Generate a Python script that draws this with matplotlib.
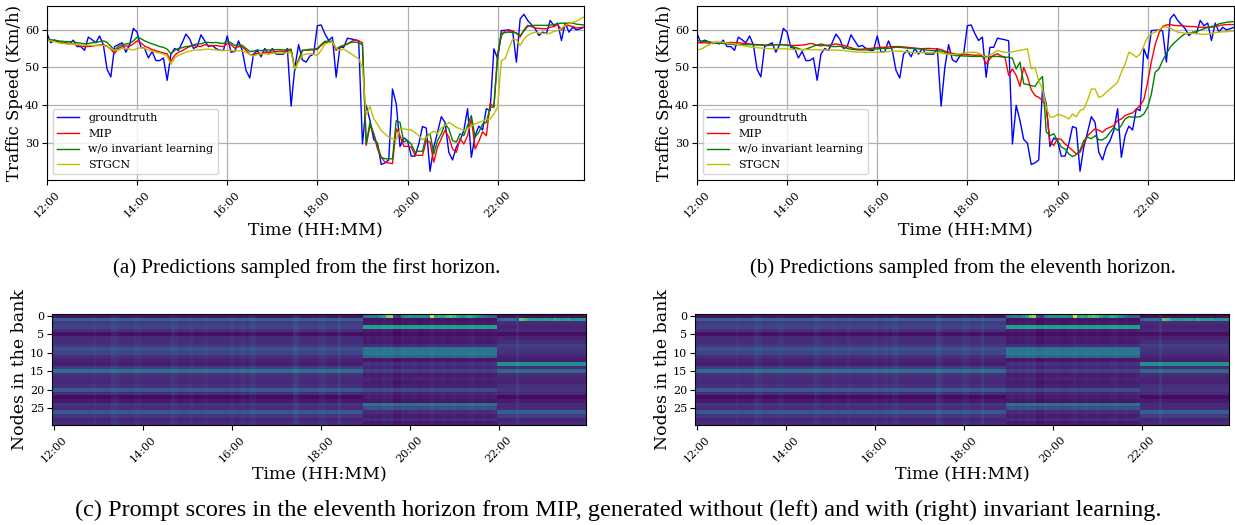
import numpy as np
import matplotlib
matplotlib.use("Agg")
import matplotlib.pyplot as plt

# ------------------------------------------------------------------
#  data (5-min steps, 12:00 -> 23:55)
# ------------------------------------------------------------------

tick_pos    = [0, 24, 48, 72, 96, 120]
tick_labels = ["12:00", "14:00", "16:00", "18:00", "20:00", "22:00"]

groundtruth = [
    59.0, 56.5, 57.2, 56.8, 56.3, 56.5, 56.2, 57.2, 55.5, 55.5, 54.5, 58.0,
    57.3, 56.5, 58.3, 56.0, 49.5, 47.5, 55.5, 56.0, 56.5, 54.0, 56.0, 60.3,
    59.3, 55.3, 55.0, 52.5, 54.2, 51.8, 51.8, 52.5, 46.6, 53.5, 55.0, 54.5,
    56.5, 58.8, 57.5, 55.0, 55.5, 58.6, 57.0, 55.5, 55.8, 55.0, 54.5, 54.5,
    58.3, 54.0, 54.2, 57.0, 54.5, 49.2, 47.2, 53.5, 54.5, 52.8, 55.0, 53.5,
    55.0, 53.5, 53.5, 53.5, 55.0, 39.8, 50.0, 56.0, 52.0, 51.4, 53.0, 53.5,
    61.0, 61.2, 58.9, 57.1, 58.0, 47.4, 55.3, 55.3, 57.7, 57.5, 57.3, 57.0,
    29.8, 40.0, 36.0, 31.0, 30.0, 24.4, 24.8, 25.6, 44.3, 40.4, 29.1, 31.4,
    30.7, 26.6, 26.6, 29.8, 34.4, 34.0, 22.6, 29.0, 32.9, 37.0, 35.5, 27.6,
    25.6, 29.0, 30.7, 33.4, 39.1, 26.3, 32.0, 34.5, 33.5, 39.1, 38.6, 54.9,
    52.3, 59.7, 59.8, 59.9, 59.6, 51.4, 62.8, 64.0, 62.4, 61.3, 60.2, 58.4,
    59.3, 58.9, 62.4, 61.0, 61.7, 57.1, 61.7, 59.3, 60.6, 59.9, 60.2, 60.6,
]

# (a) first horizon
mip_h1 = [
    57.2, 57.0, 56.9, 56.7, 56.5, 56.4, 56.3, 56.2, 55.9, 55.7, 55.5, 55.5,
    55.6, 55.8, 55.9, 56.0, 55.6, 54.8, 53.7, 55.0, 55.5, 55.7, 55.6, 56.2,
    57.0, 56.5, 55.6, 55.2, 54.7, 54.4, 54.1, 53.8, 53.6, 51.6, 53.2, 54.0,
    54.4, 55.0, 55.5, 55.8, 55.6, 55.5, 56.0, 55.8, 55.7, 55.8, 55.6, 55.5,
    56.3, 56.0, 55.1, 55.5, 55.4, 54.5, 53.4, 53.3, 53.8, 53.6, 54.0, 54.0,
    54.0, 54.2, 54.3, 54.2, 54.3, 54.5, 49.8, 51.8, 54.5, 54.5, 54.6, 54.6,
    54.8, 55.8, 56.6, 56.6, 56.7, 54.5, 55.3, 55.8, 56.2, 56.8, 57.3, 57.0,
    56.5, 29.4, 34.7, 32.5, 28.5, 26.3, 25.0, 24.8, 24.6, 33.8, 32.0, 29.2,
    29.2, 29.0, 26.8, 26.8, 26.8, 30.7, 30.3, 25.0, 29.0, 31.2, 33.4, 31.6,
    28.5, 27.6, 31.2, 29.8, 32.0, 36.5, 28.5, 30.5, 33.0, 32.0, 40.4, 39.7,
    53.6, 58.4, 59.7, 59.6, 59.6, 59.0, 58.0, 59.9, 61.1, 60.8, 60.4, 60.3,
    60.2, 60.2, 60.6, 60.8, 61.3, 59.9, 61.2, 61.0, 60.8, 60.4, 60.5, 60.6,
]
woinv_h1 = [
    57.5, 57.3, 57.2, 57.0, 56.9, 56.8, 56.8, 56.8, 56.5, 56.4, 56.2, 56.3,
    56.5, 56.6, 56.8, 57.0, 56.6, 55.6, 54.5, 55.5, 56.0, 56.2, 56.3, 57.0,
    58.0, 57.6, 57.0, 56.6, 56.2, 55.9, 55.5, 55.3, 54.8, 53.6, 54.5, 55.0,
    55.2, 55.5, 55.6, 56.0, 56.2, 56.2, 56.6, 56.6, 56.5, 56.6, 56.4, 56.3,
    57.0, 56.5, 55.8, 56.0, 55.8, 55.0, 54.2, 54.3, 54.6, 54.4, 54.6, 54.6,
    54.6, 54.7, 54.7, 54.6, 54.7, 54.8, 49.2, 52.0, 54.5, 54.6, 54.8, 54.8,
    55.0, 56.0, 56.9, 56.9, 56.9, 54.8, 55.5, 55.8, 56.2, 56.6, 56.7, 56.5,
    56.0, 29.8, 35.5, 32.5, 29.4, 26.3, 25.9, 25.9, 25.9, 36.0, 35.5, 30.3,
    30.7, 29.8, 27.6, 27.9, 27.9, 32.0, 32.5, 27.2, 30.7, 32.5, 35.1, 33.8,
    30.7, 30.3, 32.5, 32.0, 34.7, 37.3, 31.6, 32.9, 35.1, 35.5, 39.5, 39.5,
    52.7, 58.9, 59.2, 59.3, 59.2, 59.1, 58.4, 59.6, 60.8, 61.0, 61.1, 61.1,
    61.1, 61.1, 61.2, 61.3, 61.5, 61.7, 61.6, 61.7, 61.7, 61.4, 61.3, 61.2,
]
stgcn_h1 = [
    57.3, 57.0, 56.8, 56.5, 56.4, 56.2, 56.2, 56.2, 56.0, 55.9, 55.8, 55.8,
    55.8, 55.7, 55.8, 55.8, 55.5, 55.0, 54.5, 54.6, 55.0, 55.0, 54.8, 54.6,
    55.0, 55.2, 55.0, 54.6, 54.3, 54.0, 53.8, 53.5, 53.0, 50.8, 52.5, 53.2,
    53.6, 54.0, 54.3, 54.5, 54.6, 54.6, 54.8, 54.8, 54.7, 54.6, 54.5, 54.4,
    54.5, 54.5, 54.3, 54.4, 54.3, 54.0, 53.4, 53.0, 53.4, 53.5, 53.6, 53.6,
    53.7, 53.8, 53.8, 53.8, 53.8, 53.9, 49.6, 51.5, 53.3, 53.5, 53.6, 53.5,
    53.1, 54.5, 56.2, 56.5, 56.7, 55.0, 54.5, 54.9, 54.2, 53.6, 52.9, 52.3,
    50.0, 37.5, 39.7, 36.5, 35.0, 33.4, 32.4, 31.6, 31.2, 30.9, 33.8, 33.8,
    33.6, 33.5, 32.8, 32.0, 30.9, 31.5, 32.5, 33.2, 32.6, 34.0, 34.7, 35.5,
    34.9, 34.2, 33.8, 33.4, 33.8, 34.5, 35.1, 35.5, 35.8, 36.4, 36.4, 37.7,
    39.5, 51.8, 52.3, 55.0, 57.5, 57.3, 55.8, 57.5, 58.4, 59.0, 59.3, 59.1,
    59.0, 58.9, 59.0, 59.5, 59.7, 60.3, 61.1, 61.5, 61.9, 62.2, 62.8, 63.3,
]

# (b) eleventh horizon
mip_h11 = [
    56.5, 56.5, 56.5, 56.4, 56.5, 56.6, 56.5, 56.4, 56.5, 56.6, 56.5, 56.5,
    56.4, 56.3, 56.2, 56.1, 56.0, 56.0, 55.9, 55.9, 55.9, 56.0, 56.0, 56.0,
    55.9, 55.8, 55.8, 55.8, 55.9, 56.0, 56.3, 56.2, 55.8, 55.7, 55.8, 55.9,
    56.0, 56.2, 56.0, 55.8, 55.5, 55.2, 54.9, 54.8, 54.8, 55.0, 55.0, 55.1,
    55.2, 55.3, 55.3, 55.4, 55.5, 55.5, 55.5, 55.4, 55.3, 55.2, 55.1, 55.0,
    54.9, 55.0, 55.0, 54.9, 54.9, 54.7, 54.3, 54.0, 53.7, 53.5, 53.5, 53.4,
    53.4, 53.3, 53.2, 53.3, 53.0, 50.9, 52.3, 53.2, 53.6, 53.0, 52.7, 47.9,
    49.6, 47.9, 45.0, 50.0, 47.5, 44.1, 42.6, 42.1, 41.3, 39.5, 30.3, 29.4,
    31.2, 31.0, 29.8, 29.0, 28.1, 27.2, 27.6, 29.8, 32.0, 32.9, 33.8, 33.4,
    32.9, 33.8, 34.2, 34.7, 36.0, 36.4, 37.3, 37.7, 38.0, 39.0, 40.0, 41.5,
    46.0, 51.5, 56.0, 59.0, 60.8, 61.2, 61.3, 61.1, 61.0, 61.0, 60.9, 60.8,
    60.8, 60.7, 60.6, 60.6, 60.6, 60.6, 60.8, 61.0, 61.2, 61.3, 61.3, 61.3,
]
woinv_h11 = [
    57.1, 57.0, 56.9, 56.8, 56.6, 56.5, 56.4, 56.3, 56.2, 56.1, 56.0, 56.0,
    56.0, 56.0, 56.0, 56.0, 55.9, 55.9, 55.8, 55.8, 55.9, 56.0, 56.0, 56.0,
    55.9, 55.6, 55.3, 55.0, 54.6, 54.8, 55.2, 55.6, 55.9, 56.2, 55.9, 55.6,
    55.5, 55.5, 55.6, 55.3, 55.0, 54.8, 54.7, 54.6, 54.6, 54.6, 54.7, 54.8,
    54.9, 55.0, 55.0, 55.0, 55.2, 55.3, 55.3, 55.2, 55.1, 55.0, 55.0, 54.9,
    54.8, 54.6, 54.5, 54.4, 54.4, 54.3, 54.0, 53.6, 53.3, 53.1, 53.1, 53.0,
    53.0, 52.9, 52.9, 52.9, 52.9, 52.9, 52.9, 52.9, 52.9, 52.8, 52.7, 52.7,
    52.4, 49.6, 51.4, 45.7, 45.5, 45.2, 45.0, 46.5, 47.6, 33.0, 32.0, 32.5,
    30.7, 29.0, 28.5, 27.2, 26.5, 27.0, 28.1, 30.7, 31.6, 31.2, 32.0, 30.9,
    30.9, 31.6, 32.9, 34.2, 33.4, 34.7, 36.4, 37.0, 36.9, 36.9, 37.0, 37.7,
    39.5, 43.0, 48.7, 49.6, 51.8, 53.6, 55.3, 56.4, 57.3, 58.2, 58.9, 59.0,
    59.2, 59.5, 59.8, 60.2, 60.5, 60.8, 61.0, 61.5, 61.7, 61.9, 62.0, 62.1,
]
stgcn_h11 = [
    54.6, 54.8, 55.3, 55.9, 56.4, 56.7, 56.7, 56.6, 56.4, 56.3, 56.2, 56.0,
    55.8, 55.6, 55.4, 55.3, 55.2, 55.1, 55.0, 55.0, 54.9, 54.9, 54.9, 54.9,
    54.9, 54.8, 54.7, 54.7, 54.7, 54.7, 54.7, 54.7, 54.7, 54.6, 54.6, 54.6,
    54.6, 54.6, 54.5, 54.5, 54.3, 54.2, 54.1, 54.0, 54.0, 54.0, 54.0, 54.0,
    54.0, 54.0, 54.1, 54.2, 54.3, 54.3, 54.3, 54.2, 54.1, 54.0, 53.9, 53.9,
    53.9, 53.9, 53.9, 53.9, 53.9, 53.8, 53.6, 53.5, 53.4, 53.4, 53.6, 53.8,
    53.9, 54.0, 54.0, 53.8, 53.3, 52.5, 53.3, 53.8, 54.5, 54.2, 54.0, 53.9,
    54.1, 54.3, 54.5, 54.7, 54.9, 49.6, 50.0, 46.5, 44.3, 39.5, 36.9, 36.9,
    37.6, 37.4, 37.0, 36.4, 37.7, 37.0, 38.6, 39.0, 41.3, 44.3, 44.3, 42.1,
    42.5, 43.5, 44.3, 45.2, 46.1, 48.7, 50.9, 54.0, 53.5, 52.7, 53.5, 55.8,
    58.0, 58.9, 59.3, 59.9, 60.6, 60.7, 60.4, 59.8, 59.3, 59.2, 59.0, 59.0,
    59.0, 58.9, 58.8, 58.7, 58.8, 59.0, 59.2, 59.3, 59.4, 59.4, 59.5, 59.6,
]

# (c) prompt scores: one level per bank node for each traffic regime
bank_day = [0.05, 0.30, 0.17, 0.20, 0.14, 0.04, 0.12, 0.13, 0.16, 0.24,
            0.20, 0.14, 0.10, 0.08, 0.18, 0.36, 0.14, 0.12, 0.11, 0.14,
            0.28, 0.12, 0.03, 0.07, 0.15, 0.12, 0.27, 0.15, 0.10, 0.12]
bank_jam = [0.45, 0.03, 0.04, 0.55, 0.06, 0.02, 0.06, 0.05, 0.10, 0.36,
            0.38, 0.30, 0.04, 0.12, 0.08, 0.16, 0.06, 0.08, 0.05, 0.07,
            0.20, 0.08, 0.06, 0.04, 0.34, 0.22, 0.10, 0.06, 0.10, 0.05]
bank_late = [0.04, 0.45, 0.12, 0.10, 0.12, 0.04, 0.10, 0.13, 0.18, 0.15,
             0.14, 0.10, 0.08, 0.50, 0.12, 0.33, 0.12, 0.10, 0.10, 0.14,
             0.15, 0.12, 0.03, 0.08, 0.12, 0.12, 0.30, 0.18, 0.10, 0.12]
# node 0 during the jam (19:00-21:55) and node 1 after it (22:00-23:55)
bank0_jam = [0.35, 0.40, 0.45, 0.40, 0.50, 0.60, 0.80, 0.85, 0.20, 0.15, 0.45, 0.50,
             0.55, 0.50, 0.50, 0.55, 0.50, 0.45, 0.95, 0.60, 0.65, 0.60, 0.70, 0.75,
             0.70, 0.60, 0.50, 0.55, 0.65, 0.60, 0.50, 0.45, 0.35, 0.30, 0.30, 0.30]
bank1_late = [0.30, 0.35, 0.38, 0.40, 0.38, 0.30, 0.75, 0.70, 0.60, 0.58, 0.55, 0.55,
              0.58, 0.60, 0.55, 0.65, 0.60, 0.55, 0.58, 0.60, 0.50, 0.55, 0.55, 0.55]
# vertical streaks (whole column a bit brighter)
col_shift = [
    0, 0, 0, 0, 0, 0, 0, 0, 0, 0, 0, 0.02,
    0, 0, 0, 0, 0.04, 0.03, 0, 0, 0, 0, 0.02, 0.02,
    0, 0, 0, 0, 0, 0, 0, 0, 0.04, 0.02, 0, 0,
    0, 0.02, 0, 0, 0, 0.02, 0, 0, 0, 0, 0, 0,
    0.02, 0, 0, 0.02, 0, 0.03, 0.03, 0, 0, 0, 0, 0,
    0, 0, 0, 0, 0, 0.06, 0.03, 0, 0, 0, 0, 0,
    0.03, 0.03, 0, 0, 0, 0.05, 0, 0, 0, 0, 0, 0,
    0.02, 0.03, 0.02, 0.03, 0.02, 0.04, 0.03, 0.04, 0, 0, 0.03, 0.02,
    0.02, 0.03, 0.02, 0.01, 0.02, 0.02, 0.04, 0.02, 0.02, 0.03, 0.02, 0.02,
    0.03, 0.02, 0.02, 0.02, 0.03, 0.04, 0.02, 0.02, 0.03, 0.02, 0.02, 0.03,
    0, 0, 0, 0, 0, 0.05, 0, 0, 0, 0, 0, 0,
    0, 0, 0, 0, 0, 0, 0, 0, 0, 0, 0, 0,
]

scores = np.empty((len(bank_day), len(col_shift)))
scores[:, :84] = np.array(bank_day)[:, None]
scores[:, 84:120] = np.array(bank_jam)[:, None]
scores[:, 120:] = np.array(bank_late)[:, None]
scores += np.array(col_shift)[None, :]
scores[0, 84:120] = bank0_jam
scores[1, 120:] = bank1_late

# ------------------------------------------------------------------
#  figure
# ------------------------------------------------------------------

plt.rcParams["font.family"] = "DejaVu Serif"

W, H = 1235, 525
fig = plt.figure(figsize=(W / 100, H / 100), dpi=100)


def px_axes(left, top, right, bottom):
    return fig.add_axes([left / W, 1 - bottom / H, (right - left) / W, (bottom - top) / H])


def speed_panel(ax, mip, woinv, stgcn):
    x = np.arange(len(groundtruth))
    ax.plot(x, groundtruth, color="b", lw=1.0, label="groundtruth")
    ax.plot(x, mip, color="r", lw=1.0, label="MIP")
    ax.plot(x, woinv, color="g", lw=1.0, label="w/o invariant learning")
    ax.plot(x, stgcn, color="y", lw=1.0, label="STGCN")
    ax.set_xlim(0, len(x) - 1)
    ax.set_ylim(20.3, 66.2)
    ax.set_yticks([30, 40, 50, 60])
    ax.set_xticks(tick_pos)
    ax.set_xticklabels(tick_labels, rotation=45)
    ax.tick_params(labelsize=8)
    ax.tick_params(axis="y", pad=2)
    ax.grid(True, color="#b0b0b0", lw=0.9)
    ax.set_axisbelow(True)
    ax.set_xlabel("Time (HH:MM)", fontsize=12.5, labelpad=2)
    ax.set_ylabel("Traffic Speed (Km/h)", fontsize=12)
    ax.yaxis.set_label_coords(-0.044, 0.5)
    ax.legend(loc="lower left", fontsize=8, handlelength=2.0, borderaxespad=0.5)


def score_panel(ax):
    ax.imshow(scores, cmap="viridis", vmin=0, vmax=1, aspect="auto",
              interpolation="nearest")
    ax.set_xticks(tick_pos)
    ax.set_xticklabels(tick_labels, rotation=45)
    ax.set_yticks([0, 5, 10, 15, 20, 25])
    ax.tick_params(labelsize=8)
    ax.tick_params(axis="y", pad=2)
    ax.set_xlabel("Time (HH:MM)", fontsize=12.5, labelpad=1)
    ax.set_ylabel("Nodes in the bank", fontsize=12.5)
    ax.yaxis.set_label_coords(-0.045, 0.5)


speed_panel(px_axes(47, 6, 584, 180), mip_h1, woinv_h1, stgcn_h1)
speed_panel(px_axes(697, 6, 1234, 180), mip_h11, woinv_h11, stgcn_h11)
score_panel(px_axes(52, 314, 586, 425))
score_panel(px_axes(695, 314, 1229, 425))

sub = dict(ha="center", va="center", fontsize=15, family="Liberation Serif")
fig.text(307 / W, 1 - 268 / H, "(a) Predictions sampled from the first horizon.", **sub)
fig.text(963 / W, 1 - 268 / H, "(b) Predictions sampled from the eleventh horizon.", **sub)
fig.text(618 / W, 1 - 510 / H,
         "(c) Prompt scores in the eleventh horizon from MIP, generated without (left) "
         "and with (right) invariant learning.",
         ha="center", va="center", fontsize=17.5, family="Liberation Serif")

fig.savefig("out.png", dpi=100)
